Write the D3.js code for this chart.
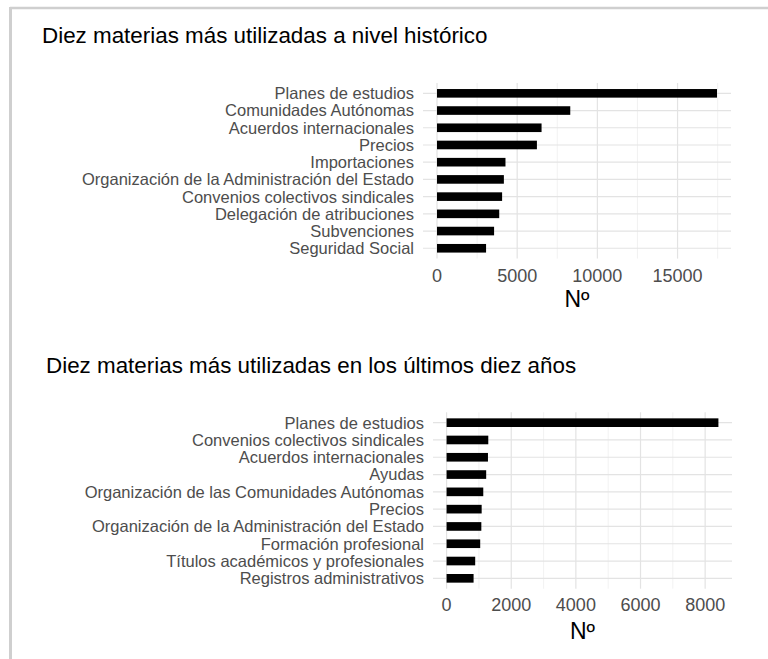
<!DOCTYPE html>
<html>
<head>
<meta charset="utf-8">
<script src="https://cdn.jsdelivr.net/npm/d3@7"></script>
<style>
  body { margin: 0; background: #fff; }
  text { font-family: "Liberation Sans", Arial, sans-serif; }
</style>
</head>
<body>
<div id="chartHolder"></div>
<script>
// data
const histTitle = "Diez materias más utilizadas a nivel histórico";
const histCats = ["Planes de estudios", "Comunidades Autónomas", "Acuerdos internacionales",
  "Precios", "Importaciones", "Organización de la Administración del Estado",
  "Convenios colectivos sindicales", "Delegación de atribuciones", "Subvenciones", "Seguridad Social"];
const histVals = [17460, 8310, 6520, 6230, 4270, 4170, 4060, 3880, 3560, 3060];
const histTicks = [0, 5000, 10000, 15000];
const histMinor = [2500, 7500, 12500, 17500];

const recTitle = "Diez materias más utilizadas en los últimos diez años";
const recCats = ["Planes de estudios", "Convenios colectivos sindicales", "Acuerdos internacionales",
  "Ayudas", "Organización de las Comunidades Autónomas", "Precios",
  "Organización de la Administración del Estado", "Formación profesional",
  "Títulos académicos y profesionales", "Registros administrativos"];
const recVals = [8410, 1290, 1280, 1225, 1135, 1085, 1075, 1040, 885, 835];
const recTicks = [0, 2000, 4000, 6000, 8000];
const recMinor = [1000, 3000, 5000, 7000];

const xLabel = "Nº";

const w = 768, h = 659;

const svg = d3.select("#chartHolder").append("svg")
  .attr("width", w)
  .attr("height", h);

// outer frame (only top + left edges show)
svg.append("line").attr("x1", 10).attr("x2", w).attr("y1", 8).attr("y2", 8)
  .attr("stroke", "#cfcfcf").attr("stroke-width", 2.5);
svg.append("line").attr("x1", 10.5).attr("x2", 10.5).attr("y1", 7).attr("y2", h)
  .attr("stroke", "#cfcfcf").attr("stroke-width", 3);

function drawPanel(o) {
  const g = svg.append("g");
  const max = d3.max(o.vals);

  // 5% expansion on the value axis, like ggplot
  const x = d3.scaleLinear()
    .domain([-0.05 * max, 1.05 * max])
    .range([o.left, o.right]);

  // discrete axis: 0.6 step of padding on both ends
  const y = d3.scalePoint()
    .domain(o.cats)
    .range([o.top, o.bottom])
    .padding(0.6);
  const bh = y.step() * 0.5;

  g.append("text")
    .attr("x", o.titleX).attr("y", o.titleY)
    .attr("font-size", 22.4).attr("fill", "#000")
    .text(o.title);

  // grid
  g.selectAll(".minor").data(o.minor).enter().append("line")
    .attr("x1", d => x(d)).attr("x2", d => x(d))
    .attr("y1", o.top).attr("y2", o.bottom)
    .attr("stroke", "#efefef").attr("stroke-width", 0.8);
  g.selectAll(".major").data(o.ticks).enter().append("line")
    .attr("x1", d => x(d)).attr("x2", d => x(d))
    .attr("y1", o.top).attr("y2", o.bottom)
    .attr("stroke", "#e3e3e3").attr("stroke-width", 1.2);
  g.selectAll(".hgrid").data(o.cats).enter().append("line")
    .attr("x1", o.left).attr("x2", o.right)
    .attr("y1", d => y(d)).attr("y2", d => y(d))
    .attr("stroke", "#e3e3e3").attr("stroke-width", 1.2);

  // bars
  g.selectAll(".bar").data(o.cats).enter().append("rect")
    .attr("x", x(0))
    .attr("y", d => y(d) - bh / 2)
    .attr("width", (d, i) => x(o.vals[i]) - x(0))
    .attr("height", bh)
    .attr("fill", "#000");

  // y labels
  g.selectAll(".ylab").data(o.cats).enter().append("text")
    .attr("x", o.left - 9)
    .attr("y", d => y(d))
    .attr("dy", "0.36em")
    .attr("text-anchor", "end")
    .attr("font-size", 16.5)
    .attr("fill", "#4d4d4d")
    .text(d => d);

  // x tick labels
  g.selectAll(".xlab").data(o.ticks).enter().append("text")
    .attr("x", d => x(d))
    .attr("y", o.tickY)
    .attr("text-anchor", "middle")
    .attr("font-size", 18)
    .attr("fill", "#4d4d4d")
    .text(d => d);

  g.append("text")
    .attr("x", (o.left + o.right) / 2)
    .attr("y", o.labelY)
    .attr("text-anchor", "middle")
    .attr("font-size", 23)
    .attr("fill", "#000")
    .text(xLabel);
}

drawPanel({
  title: histTitle, cats: histCats, vals: histVals, ticks: histTicks, minor: histMinor,
  titleX: 42, titleY: 43,
  left: 423, right: 731, top: 83, bottom: 258.6,
  tickY: 282, labelY: 307
});

drawPanel({
  title: recTitle, cats: recCats, vals: recVals, ticks: recTicks, minor: recMinor,
  titleX: 46, titleY: 373,
  left: 433, right: 732, top: 412.3, bottom: 588.7,
  tickY: 611, labelY: 639
});
</script>
</body>
</html>
